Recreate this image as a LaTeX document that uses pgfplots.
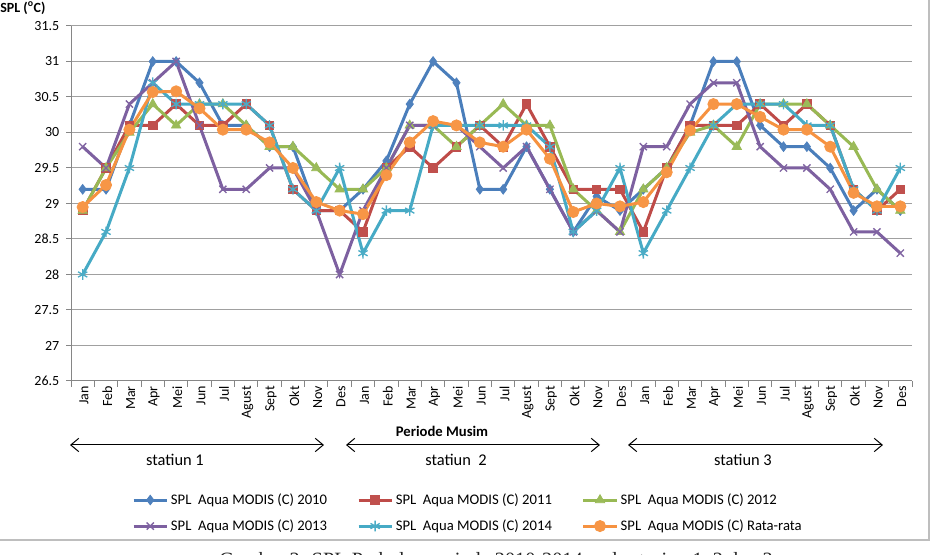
\documentclass[border=0pt]{standalone}
\usepackage{fontspec}
\setmainfont{Carlito}
\newfontfamily\serifcap{Liberation Serif}
\usepackage{graphicx}
\usepackage{pgfplots}
\pgfplotsset{compat=1.18}
\usepackage{pgfplotstable}
\usetikzlibrary{arrows.meta}

\definecolor{cblue}{HTML}{4A7EBB}
\definecolor{cblueM}{HTML}{4F81BD}
\definecolor{cred}{HTML}{BE4B48}
\definecolor{credM}{HTML}{C0504D}
\definecolor{cgreen}{HTML}{98B954}
\definecolor{cgreenM}{HTML}{9BBB59}
\definecolor{cpurple}{HTML}{7D60A0}
\definecolor{cpurpleM}{HTML}{8064A2}
\definecolor{ccyan}{HTML}{46AAC5}
\definecolor{ccyanM}{HTML}{4BACC6}
\definecolor{corange}{HTML}{F69240}
\definecolor{corangeM}{HTML}{F79646}
\definecolor{axgray}{HTML}{868686}
\definecolor{gridgray}{HTML}{A0A0A0}
\definecolor{framegray}{HTML}{BEBEBE}

\pgfplotstableread{
x b r g p c o
0  29.2 28.9 28.9 29.8 28.0 28.95
1  29.2 29.5 29.5 29.5 28.6 29.26
2  30.1 30.1 30.0 30.4 29.5 30.04
3  31.0 30.1 30.4 30.7 30.7 30.57
4  31.0 30.4 30.1 31.0 30.4 30.58
5  30.7 30.1 30.4 30.1 30.4 30.34
6  30.1 30.1 30.4 29.2 30.4 30.04
7  30.1 30.4 30.1 29.2 30.4 30.04
8  29.8 30.1 29.8 29.5 30.1 29.86
9  29.8 29.2 29.8 29.5 29.2 29.50
10 28.9 28.9 29.5 28.9 28.9 29.02
11 28.9 28.9 29.2 28.0 29.5 28.90
12 29.2 28.6 29.2 28.9 28.3 28.85
13 29.6 29.5 29.5 29.5 28.9 29.40
14 30.4 29.8 30.1 30.1 28.9 29.86
15 31.0 29.5 30.1 30.1 30.1 30.16
16 30.7 29.8 29.8 30.1 30.1 30.10
17 29.2 30.1 30.1 29.8 30.1 29.86
18 29.2 29.8 30.4 29.5 30.1 29.80
19 29.8 30.4 30.1 29.8 30.1 30.04
20 29.2 29.8 30.1 29.2 29.8 29.63
21 28.6 29.2 29.2 28.6 28.6 28.88
22 29.1 29.2 28.9 28.9 28.9 29.00
23 28.9 29.2 28.6 28.6 29.5 28.96
24 29.2 28.6 29.2 29.8 28.3 29.02
25 29.5 29.5 29.5 29.8 28.9 29.44
26 30.1 30.1 30.0 30.4 29.5 30.03
27 31.0 30.1 30.1 30.7 30.1 30.40
28 31.0 30.1 29.8 30.7 30.4 30.40
29 30.1 30.4 30.4 29.8 30.4 30.22
30 29.8 30.1 30.4 29.5 30.4 30.04
31 29.8 30.4 30.4 29.5 30.1 30.04
32 29.5 30.1 30.1 29.2 30.1 29.80
33 28.9 29.2 29.8 28.6 29.2 29.15
34 29.2 28.9 29.2 28.6 28.9 28.96
35 28.9 29.2 28.9 28.3 29.5 28.96
}\spl

\begin{document}
\begin{tikzpicture}
\useasboundingbox (0pt,0pt) rectangle (699.75pt,416.25pt);
\begin{axis}[
  at={(53.25pt,130.5pt)}, anchor=south west,
  scale only axis, width=630.75pt, height=266.25pt,
  xmin=-0.5, xmax=35.5, ymin=26.5, ymax=31.5,
  axis lines=left,
  axis line style={-, draw=axgray, line width=0.75pt},
  tick align=outside,
  font=\fontsize{10.5}{12}\selectfont,
  /pgf/number format/assume math mode=true,
  ytick={26.5,27,...,31.5},
  yticklabel style={font=\fontsize{10.5}{12}\selectfont, xshift=-1.5pt},
  ymajorgrids=true,
  major grid style={draw=gridgray, line width=0.75pt},
  xtick={0,...,35},
  xticklabels={Jan,Feb,Mar,Apr,Mei,Jun,Jul,Agust,Sept,Okt,Nov,Des,
               Jan,Feb,Mar,Apr,Mei,Jun,Jul,Agust,Sept,Okt,Nov,Des,
               Jan,Feb,Mar,Apr,Mei,Jun,Jul,Agust,Sept,Okt,Nov,Des},
  xticklabel style={rotate=90, anchor=east, inner sep=0pt, font=\fontsize{10.5}{12}\selectfont, yshift=-1pt},
  major x tick style={draw=none},
  minor xtick={-0.5,0.5,...,35.5},
  minor x tick style={draw=axgray, line width=0.75pt},
  y tick style={draw=axgray, line width=0.75pt},
  major tick length=3.75pt,
  minor tick length=4.5pt,
  legend columns=3,
  legend cell align=left,
  legend style={at={(0.0725,-0.372)}, anchor=west, draw=none, fill=none,
     inner sep=0pt, font=\fontsize{11}{13}\selectfont,
     /tikz/every even column/.append style={column sep=20.5pt},
     row sep=6pt},
  legend image code/.code={\draw[mark repeat=2,mark phase=2,#1] plot coordinates {(0pt,0pt) (12.4pt,0pt) (24.8pt,0pt)};},
]
\addplot[cblue, line width=2.25pt, mark=diamond*, mark size=3.6pt,
  mark options={solid, fill=cblueM, draw=cblueM, line width=0.6pt}] table[x=x,y=b]{\spl};
\addlegendentry{SPL\ \ Aqua MODIS (C) 2010}
\addplot[cred, line width=2.25pt, mark=square*, mark size=3.2pt,
  mark options={solid, fill=credM, draw=credM, line width=0.6pt}] table[x=x,y=r]{\spl};
\addlegendentry{SPL\ \ Aqua MODIS (C) 2011}
\addplot[cgreen, line width=2.25pt, mark=triangle*, mark size=4pt,
  mark options={solid, fill=cgreenM, draw=cgreenM, line width=0.6pt}] table[x=x,y=g]{\spl};
\addlegendentry{SPL\ \ Aqua MODIS (C) 2012}
\addplot[cpurple, line width=2.25pt, mark=x, mark size=3.8pt,
  mark options={solid, draw=cpurpleM, line width=1pt}] table[x=x,y=p]{\spl};
\addlegendentry{SPL\ \ Aqua MODIS (C) 2013}
\addplot[ccyan, line width=2.25pt, mark=asterisk, mark size=4pt,
  mark options={solid, draw=ccyanM, line width=1pt}] table[x=x,y=c]{\spl};
\addlegendentry{SPL\ \ Aqua MODIS (C) 2014}
\addplot[corange, line width=2.25pt, mark=*, mark size=4.2pt,
  mark options={solid, fill=corangeM, draw=corangeM, line width=0.6pt}] table[x=x,y=o]{\spl};
\addlegendentry{SPL\ \ Aqua MODIS (C) Rata-rata}
\end{axis}

% axis title
\node[anchor=west, inner sep=0pt, font=\fontsize{10.5}{12}\selectfont\bfseries] at (0pt,410.25pt) {SPL (\textsuperscript{o}C)};
% x axis title
\node[inner sep=0pt, font=\fontsize{11}{13}\selectfont\bfseries] at (331.5pt,93pt) {Periode Musim};
% station arrows
\begin{scope}[line width=0.75pt, {Straight Barb[length=6pt,width=10pt,line width=0.75pt]}-{Straight Barb[length=6pt,width=10pt,line width=0.75pt]}]
\draw (52.5pt,82.5pt) -- (243pt,82.5pt);
\draw (259.5pt,82.5pt) -- (450pt,82.5pt);
\draw (471pt,82.5pt) -- (662.25pt,82.5pt);
\end{scope}
\node[font=\fontsize{12.3}{14}\selectfont] at (131.25pt,71.25pt) {statiun 1};
\node[font=\fontsize{12.3}{14}\selectfont] at (342pt,71.25pt) {statiun\ \ 2};
\node[font=\fontsize{12.3}{14}\selectfont] at (557.25pt,71.25pt) {statiun 3};
% chart frame
\draw[framegray, line width=1.5pt] (-2pt,11.25pt) -- (696.75pt,11.25pt) -- (696.75pt,420pt);
% caption (cut off at the bottom edge, as in the reference)
\node[anchor=base, inner sep=0pt, text=black!85] at (372pt,-8.5pt) {\resizebox{415pt}{!}{\serifcap Gambar 2. SPL Perbulan periode 2010-2014 pada stasiun 1, 2 dan 3}};
\end{tikzpicture}
\end{document}
